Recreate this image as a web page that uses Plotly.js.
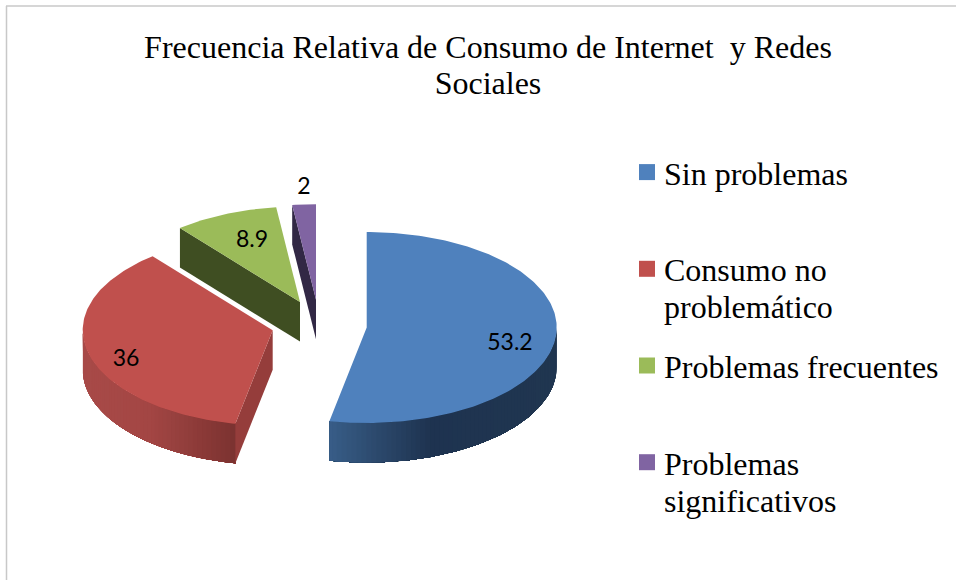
<!DOCTYPE html>
<html><head><meta charset="utf-8">
<script src="https://cdn.plot.ly/plotly-3.0.1.min.js"></script>
<style>html,body{margin:0;padding:0;background:#fff}</style></head>
<body><div id="chart" style="width:956px;height:580px"></div>
<script>
// Data
const categories = ['Sin problemas','Consumo no<br>problemático','Problemas frecuentes','Problemas<br>significativos'];
const values = [53.2, 36, 8.9, 2];
// Styles
const topColors = ['#4f81bd','#c0504d','#9bbb59','#8064a2'];
const cutColors = [null,'#953d3b','#3f4e22','#322845'];
const wallStops = [
  [[329,[56,93,136]],[385,[42,70,104]],[430,[30,51,80]],[557,[32,54,80]]],
  [[83,[168,74,72]],[150,[163,70,68]],[236,[123,50,48]]],
  [[0,[63,78,34]],[956,[63,78,34]]],
  [[0,[50,40,69]],[956,[50,40,69]]]
];
// Geometry of the exploded tilted pie (pixels)
const apexX = [366.7,272.7,300,316], apexY = [327.5,330.2,302,299.7];
const RX = 190, RY = 95.5, DEPTH = 39.5;
const labelX = [510,126,252,304], labelY = [344,360,241,188];

const total = values.reduce((a,b)=>a+b,0);
const rad = d => d*Math.PI/180;
function wallColor(stops,x){
  if(x<=stops[0][0]) return stops[0][1];
  for(let i=1;i<stops.length;i++){
    if(x<=stops[i][0]){
      const t=(x-stops[i-1][0])/(stops[i][0]-stops[i-1][0]);
      return stops[i-1][1].map((c,k)=>c+(stops[i][1][k]-c)*t);
    }
  }
  return stops[stops.length-1][1];
}
const rgb = c => 'rgb('+c.map(v=>Math.round(v)).join(',')+')';
const px = (i,a)=>apexX[i]+RX*Math.sin(rad(a));
const py = (i,a)=>apexY[i]-RY*Math.cos(rad(a));
function poly(xs,ys,color,extra){
  return Object.assign({type:'scatter',mode:'lines',x:xs.concat(xs[0]),y:ys.concat(ys[0]),fill:'toself',
    fillcolor:color,line:{color:color,width:0},showlegend:false,hoverinfo:'skip'},extra||{});
}
const traces = [];
let cum = 0;
values.forEach((v,i)=>{
  const a0 = cum/total*360, a1 = (cum+v)/total*360; cum += v;
  // outer wall: overlapping bands painted in order give a smooth shade without seams
  const from = Math.max(a0,90), to = Math.min(a1,270);
  const step = 1.5, starts=[];
  for(let a=from;a<to;a+=step) starts.push(a);
  const ordered = i===0 ? starts.slice() : starts.slice().reverse();
  ordered.forEach(a=>{
    const b=Math.min(a+step,to), mid=(a+b)/2, xs=[],ys=[];
    // each band runs on to the far end of the wall, later bands cover it
    const lo = i===0 ? a : from, hi = i===0 ? to : b;
    for(let t=lo;t<hi;t+=1){xs.push(px(i,t));ys.push(py(i,t));}
    xs.push(px(i,hi));ys.push(py(i,hi));
    for(let t=hi;t>lo;t-=1){xs.push(px(i,t));ys.push(py(i,t)+DEPTH);}
    xs.push(px(i,lo));ys.push(py(i,lo)+DEPTH);
    traces.push(poly(xs,ys,rgb(wallColor(wallStops[i],px(i,mid)))));
  });
  // cut face at the start of the slice
  if(cutColors[i]){
    traces.push(poly([apexX[i],px(i,a0),px(i,a0),apexX[i]],
      [apexY[i],py(i,a0),py(i,a0)+DEPTH,apexY[i]+DEPTH],cutColors[i]));
  }
  // top face
  const xs=[apexX[i]], ys=[apexY[i]];
  for(let a=a0;a<a1;a+=1){xs.push(px(i,a));ys.push(py(i,a));}
  xs.push(px(i,a1));ys.push(py(i,a1));
  traces.push(poly(xs,ys,topColors[i],{hoverinfo:'text',
    text:categories[i].replace('<br>',' ')+': '+v,hoveron:'fills'}));
});
// data labels
traces.push({type:'scatter',mode:'text',x:labelX,y:labelY,text:values.map(String),textposition:'middle center',
  textfont:{family:'Lato, sans-serif',size:23,color:'#000'},showlegend:false,hoverinfo:'skip'});
// legend entries
categories.forEach((c,i)=>{
  const twoLine = c.indexOf('<br>')>=0;
  traces.push({type:'scatter',mode:'markers',x:[null],y:[null],name:twoLine?c:c+'<br> ',legendgroup:'g'+i,
    marker:{symbol:'square',size:16,color:topColors[i]},hoverinfo:'skip'});
});
const layout = {
  width:956,height:580,margin:{l:0,r:0,t:0,b:0},paper_bgcolor:'#fff',plot_bgcolor:'#fff',
  xaxis:{range:[0,956],visible:false,fixedrange:true},
  yaxis:{range:[580,0],visible:false,fixedrange:true},
  title:{text:'Frecuencia Relativa de Consumo de Internet \u00a0y Redes<br>Sociales',
    font:{family:'Liberation Serif, serif',size:32,color:'#000'},x:488/956,xanchor:'center',y:1-58/580,yanchor:'middle'},
  legend:{x:624/956,y:1-145/580,xanchor:'left',yanchor:'top',bgcolor:'rgba(0,0,0,0)',tracegroupgap:10.5,
    font:{family:'Liberation Serif, serif',size:32,color:'#000'},itemwidth:30},
  shapes:[
    {type:'line',xref:'paper',yref:'paper',x0:6.5/956,x1:6.5/956,y0:0,y1:1-6/580,line:{color:'#c8c8c8',width:1.5}},
    {type:'line',xref:'paper',yref:'paper',x0:6/956,x1:1,y0:1-6/580,y1:1-6/580,line:{color:'#c8c8c8',width:1.5}}
  ]
};
Plotly.newPlot('chart',traces,layout,{displayModeBar:false}).then(()=>{
  // tighter line pitch, as in the reference
  document.querySelectorAll('.gtitle tspan.line').forEach((t,k)=>{ if(k>0) t.setAttribute('dy','36px'); });
  document.querySelectorAll('.legend .legendtext').forEach(txt=>{
    txt.querySelectorAll('tspan.line').forEach((t,k)=>{ if(k>0) t.setAttribute('dy','37px'); });
  });
  // put each swatch level with the first text line
  document.querySelectorAll('.legend .legendpoints').forEach(g=>g.setAttribute('transform','translate(3,-21)'));
});
</script></body></html>
